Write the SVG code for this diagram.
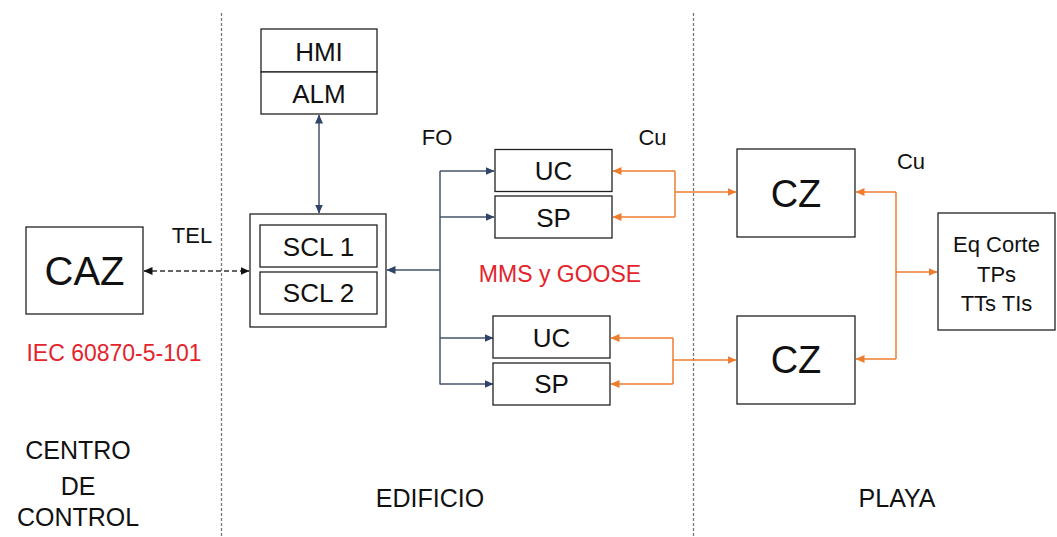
<svg xmlns="http://www.w3.org/2000/svg" width="1057" height="537" viewBox="0 0 1057 537">
<defs>
<style>
.box{fill:#fff;stroke:#222;stroke-width:1.3}
.t{font-family:"Liberation Sans",Arial,sans-serif;fill:#111;text-anchor:middle}
.red{fill:#E3242B}
.sep{stroke:#777;stroke-width:1.3;stroke-dasharray:3 2;fill:none}
.nv{stroke:#44546A;stroke-width:1.5;fill:none}
.or{stroke:#ED7D31;stroke-width:1.5;fill:none}
.tel{stroke:#333;stroke-width:1.5;stroke-dasharray:5 3;fill:none}
</style>
<marker id="an" markerWidth="9" markerHeight="8" refX="8.5" refY="4" orient="auto-start-reverse" markerUnits="userSpaceOnUse"><path d="M0,0 L9,4 L0,8 Z" fill="#2F4468"/></marker>
<marker id="ao" markerWidth="9" markerHeight="8" refX="8.5" refY="4" orient="auto-start-reverse" markerUnits="userSpaceOnUse"><path d="M0,0 L9,4 L0,8 Z" fill="#ED7D31"/></marker>
<marker id="ak" markerWidth="9" markerHeight="8" refX="8.5" refY="4" orient="auto-start-reverse" markerUnits="userSpaceOnUse"><path d="M0,0 L9,4 L0,8 Z" fill="#111"/></marker>
</defs>
<rect width="1057" height="537" fill="#fff"/>
<g id="separators">
<line class="sep" x1="221.5" y1="13" x2="221.5" y2="537"/>
<line class="sep" x1="693.5" y1="13" x2="693.5" y2="537"/>
</g>
<g id="connectors">
<line class="tel" x1="144" y1="271" x2="249" y2="271" marker-start="url(#ak)" marker-end="url(#ak)"/>
<line class="nv" x1="319" y1="115" x2="319" y2="213" marker-start="url(#an)" marker-end="url(#an)"/>
<line class="nv" x1="440" y1="270" x2="387" y2="270" marker-end="url(#an)"/>
<line class="nv" x1="440" y1="171" x2="440" y2="384.5"/>
<line class="nv" x1="440" y1="171" x2="494" y2="171" marker-end="url(#an)"/>
<line class="nv" x1="440" y1="217" x2="494" y2="217" marker-end="url(#an)"/>
<line class="nv" x1="440" y1="338" x2="493" y2="338" marker-end="url(#an)"/>
<line class="nv" x1="440" y1="384" x2="493" y2="384" marker-end="url(#an)"/>
<polyline class="or" points="675,171 675,217"/>
<line class="or" x1="675" y1="171" x2="613" y2="171" marker-end="url(#ao)"/>
<line class="or" x1="675" y1="217" x2="613" y2="217" marker-end="url(#ao)"/>
<line class="or" x1="675" y1="192" x2="736" y2="192" marker-end="url(#ao)"/>
<polyline class="or" points="673,338 673,384"/>
<line class="or" x1="673" y1="338" x2="611" y2="338" marker-end="url(#ao)"/>
<line class="or" x1="673" y1="384" x2="611" y2="384" marker-end="url(#ao)"/>
<line class="or" x1="673" y1="360" x2="736" y2="360" marker-end="url(#ao)"/>
<polyline class="or" points="896,192 896,359"/>
<line class="or" x1="896" y1="192" x2="856" y2="192" marker-end="url(#ao)"/>
<line class="or" x1="896" y1="359" x2="856" y2="359" marker-end="url(#ao)"/>
<line class="or" x1="896" y1="272" x2="937" y2="272" marker-end="url(#ao)"/>
</g>
<g id="caz"><rect class="box" x="26" y="227" width="117" height="87"/><text class="t" x="84.5" y="285" font-size="40">CAZ</text></g>
<g id="hmi"><rect class="box" x="261" y="29" width="116" height="43"/><text class="t" x="319" y="61" font-size="26">HMI</text></g>
<g id="alm"><rect class="box" x="261" y="72" width="116" height="42"/><text class="t" x="319" y="103" font-size="26">ALM</text></g>
<g id="scl"><rect class="box" x="250" y="214" width="136" height="113"/>
<rect class="box" x="260" y="225" width="117" height="42"/><text class="t" x="318.5" y="256" font-size="26">SCL 1</text>
<rect class="box" x="260" y="272" width="117" height="42"/><text class="t" x="318.5" y="302" font-size="26">SCL 2</text></g>
<g id="uc1"><rect class="box" x="495" y="149.5" width="117" height="42"/><text class="t" x="553.5" y="180" font-size="26">UC</text></g>
<g id="sp1"><rect class="box" x="495" y="196" width="117" height="42"/><text class="t" x="553.5" y="226.5" font-size="26">SP</text></g>
<g id="uc2"><rect class="box" x="493" y="316" width="117" height="42"/><text class="t" x="551.5" y="347" font-size="26">UC</text></g>
<g id="sp2"><rect class="box" x="493" y="363" width="117" height="42"/><text class="t" x="551.5" y="393" font-size="26">SP</text></g>
<g id="cz1"><rect class="box" x="737" y="149" width="118" height="88"/><text class="t" x="796" y="207" font-size="38">CZ</text></g>
<g id="cz2"><rect class="box" x="737" y="316" width="118" height="88"/><text class="t" x="796" y="373" font-size="38">CZ</text></g>
<g id="eq"><rect class="box" x="938" y="213" width="117" height="117"/>
<text class="t" x="996.5" y="252" font-size="22">Eq Corte</text>
<text class="t" x="996.5" y="282" font-size="22">TPs</text>
<text class="t" x="996.5" y="311" font-size="22">TTs TIs</text></g>
<g id="labels">
<text class="t" x="192" y="243" font-size="22">TEL</text>
<text class="t red" x="114" y="361" font-size="23">IEC 60870-5-101</text>
<text class="t" x="437" y="145" font-size="22">FO</text>
<text class="t" x="652.5" y="145" font-size="22">Cu</text>
<text class="t" x="911" y="169" font-size="22">Cu</text>
<text class="t red" x="560" y="282" font-size="23">MMS y GOOSE</text>
<text class="t" x="78" y="459" font-size="25">CENTRO</text>
<text class="t" x="78" y="495" font-size="25">DE</text>
<text class="t" x="78" y="526" font-size="25">CONTROL</text>
<text class="t" x="430" y="507" font-size="25">EDIFICIO</text>
<text class="t" x="897" y="507" font-size="25">PLAYA</text>
</g>
</svg>
